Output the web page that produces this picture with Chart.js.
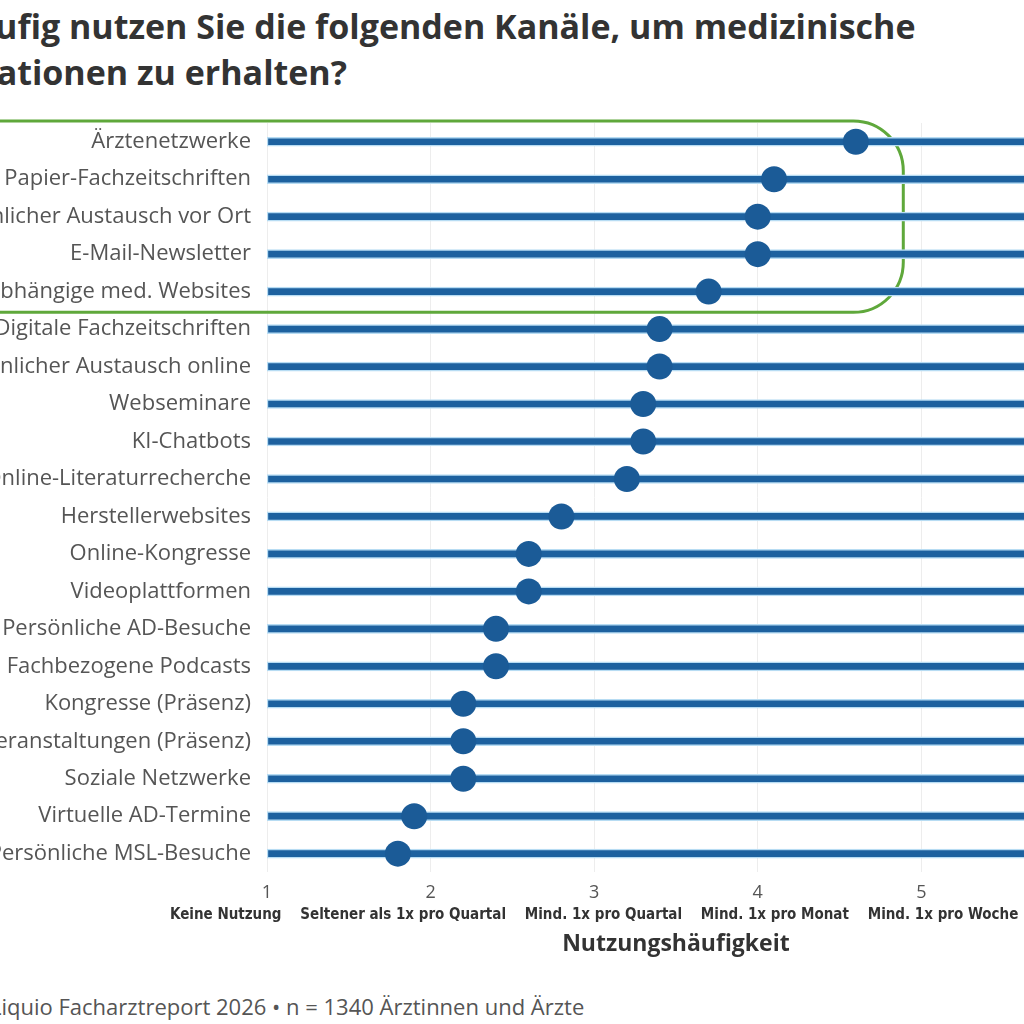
<!DOCTYPE html>
<html>
<head>
<meta charset="utf-8">
<script src="https://cdn.jsdelivr.net/npm/chart.js@4.4.1/dist/chart.umd.min.js"></script>
<style>
    html, body {
        margin: 0;
        padding: 0;
        background: #ffffff;
    }
    body {
        width: 1024px;
        height: 1024px;
        overflow: hidden;
        position: relative;
    }
    #title {
        position: absolute;
        left: -120px;
        top: 3px;
        font-family: "Open Sans", sans-serif;
        font-weight: 700;
        font-size: 34px;
        line-height: 46px;
        color: #333333;
        white-space: nowrap;
    }
    #chart-wrap {
        position: absolute;
        left: -200px;
        top: 0;
        width: 1300px;
        height: 962px;
    }
    #source {
        position: absolute;
        left: -88px;
        top: 991px;
        font-family: "Open Sans", sans-serif;
        font-size: 22px;
        line-height: 30px;
        color: #555555;
        white-space: nowrap;
    }
</style>
</head>
<body>
<div id="title">Wie häufig nutzen Sie die folgenden Kanäle, um medizinische<br>Informationen zu erhalten?</div>
<div id="chart-wrap"><canvas id="usage-chart"></canvas></div>
<div id="source">Quelle: Liquio Facharztreport 2026 • n = 1340 Ärztinnen und Ärzte</div>
<script>
var channels = [
    'Ärztenetzwerke',
    'Papier-Fachzeitschriften',
    'Persönlicher Austausch vor Ort',
    'E-Mail-Newsletter',
    'Unabhängige med. Websites',
    'Digitale Fachzeitschriften',
    'Persönlicher Austausch online',
    'Webseminare',
    'KI-Chatbots',
    'Online-Literaturrecherche',
    'Herstellerwebsites',
    'Online-Kongresse',
    'Videoplattformen',
    'Persönliche AD-Besuche',
    'Fachbezogene Podcasts',
    'Kongresse (Präsenz)',
    'Veranstaltungen (Präsenz)',
    'Soziale Netzwerke',
    'Virtuelle AD-Termine',
    'Persönliche MSL-Besuche'
];
var usage = [4.6, 4.1, 4.0, 4.0, 3.7, 3.4, 3.4, 3.3, 3.3, 3.2,
             2.8, 2.6, 2.6, 2.4, 2.4, 2.2, 2.2, 2.2, 1.9, 1.8];
var frequencyLabels = [
    'Keine Nutzung',
    'Seltener als 1x pro Quartal',
    'Mind. 1x pro Quartal',
    'Mind. 1x pro Monat',
    'Mind. 1x pro Woche'
];
var scaleMin = 1;
var scaleMax = 6;
// the answer texts sit as one line, centred under tick 3
var legendTick = 3;
// the first five channels get the green frame
var highlightCount = 5;
var highlightRight = 4.89;

var blue = '#1d619f';
var dotBlue = '#1b5b97';

var tracks = channels.map(function() {
    return [scaleMin, scaleMax];
});

var highlightBox = {
    id: 'highlightBox',
    beforeDatasetsDraw: function(chart) {
        var ctx = chart.ctx;
        var x = chart.scales.x;
        var y = chart.scales.y;
        var band = y.getPixelForValue(1) - y.getPixelForValue(0);
        var top = y.getPixelForValue(0) - band / 2 - 2;
        var bottom = y.getPixelForValue(highlightCount - 1) + band / 2 + 2;
        var right = x.getPixelForValue(highlightRight);
        ctx.save();
        ctx.strokeStyle = '#5fa83b';
        ctx.lineWidth = 3;
        ctx.beginPath();
        ctx.roundRect(10, top, right - 10, bottom - top, 50);
        ctx.stroke();
        ctx.restore();
    }
};

var chart = new Chart(document.getElementById('usage-chart'), {
    type: 'bar',
    data: {
        labels: channels,
        datasets: [{
            type: 'line',
            indexAxis: 'y',
            data: usage,
            showLine: false,
            pointRadius: 13,
            pointBackgroundColor: dotBlue,
            pointBorderWidth: 0,
            order: 0
        }, {
            type: 'bar',
            indexAxis: 'y',
            data: tracks,
            backgroundColor: blue,
            borderColor: '#b7dcf3',
            borderWidth: 1.5,
            borderSkipped: false,
            barThickness: 9,
            order: 1
        }]
    },
    options: {
        indexAxis: 'y',
        responsive: true,
        maintainAspectRatio: false,
        animation: false,
        layout: {
            padding: { top: 123, right: 13, left: 0, bottom: 0 }
        },
        plugins: {
            legend: { display: false },
            tooltip: { enabled: false }
        },
        scales: {
            y: {
                type: 'category',
                grid: { display: false, drawTicks: false },
                border: { display: false },
                ticks: {
                    color: '#555555',
                    padding: 16,
                    font: { family: 'Open Sans', size: 22 }
                },
                afterFit: function(scale) {
                    scale.width = 467;
                }
            },
            x: {
                type: 'linear',
                position: 'bottom',
                min: scaleMin,
                max: scaleMax,
                weight: 0,
                grid: { color: '#ededed', drawTicks: false },
                border: { display: false },
                ticks: {
                    stepSize: 1,
                    color: '#555555',
                    padding: 10,
                    maxRotation: 0,
                    font: { family: 'Open Sans', size: 18 }
                },
                afterFit: function(scale) {
                    scale.height = 32;
                }
            },
            x2: {
                type: 'linear',
                position: 'bottom',
                min: scaleMin,
                max: scaleMax,
                weight: 1,
                grid: { display: false, drawTicks: false },
                border: { display: false },
                afterBuildTicks: function(scale) {
                    scale.ticks = [{ value: legendTick }];
                },
                ticks: {
                    autoSkip: false,
                    maxRotation: 0,
                    padding: 2,
                    color: '#333333',
                    font: { family: "'DejaVu Sans Condensed', 'Liberation Sans Narrow', 'Roboto'", size: 15, weight: 'bold' },
                    callback: function() {
                        return frequencyLabels.join('    ');
                    }
                },
                title: {
                    display: true,
                    text: 'Nutzungshäufigkeit',
                    color: '#333333',
                    padding: { top: 4, bottom: 4 },
                    font: { family: 'Open Sans', size: 23, weight: 'bold' }
                }
            }
        }
    },
    plugins: [highlightBox]
});
</script>
</body>
</html>
